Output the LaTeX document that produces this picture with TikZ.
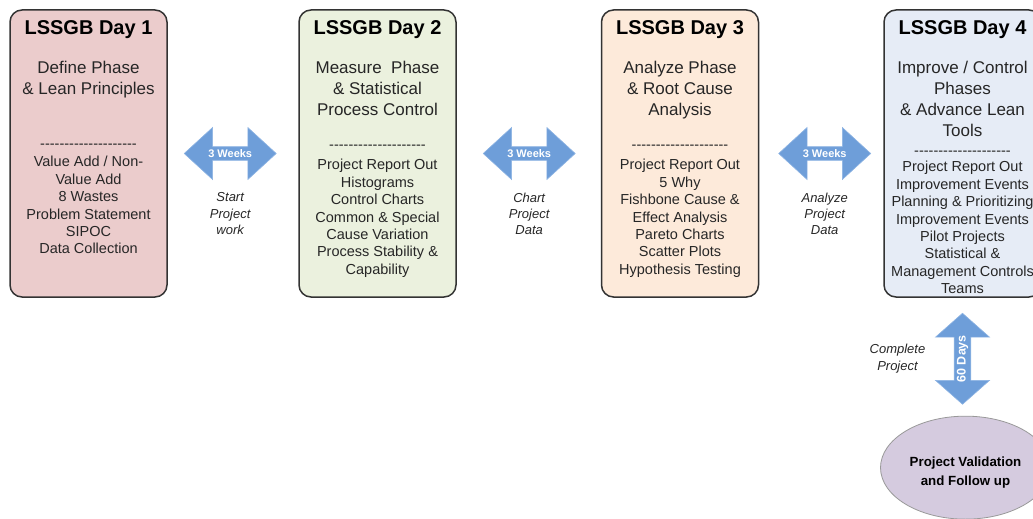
\documentclass[tikz,border=0pt]{standalone}
\usepackage{fontspec}
\setmainfont{Liberation Sans}
\usetikzlibrary{positioning,shapes.arrows,shapes.geometric}
\definecolor{dayonered}{HTML}{EBCCCC}
\definecolor{daytwogreen}{HTML}{EBF1DE}
\definecolor{daythreepeach}{HTML}{FDEADA}
\definecolor{dayfourblue}{HTML}{E6ECF6}
\definecolor{arrowblue}{HTML}{6E9ED9}
\definecolor{arrowedge}{HTML}{8EB4E3}
\definecolor{followpurple}{HTML}{D5CBDF}
\definecolor{boxedge}{HTML}{333333}
\definecolor{bodytext}{HTML}{262626}
\newcommand{\dashrow}{\foreach \k in {1,...,20}{-\kern0pt}}
\tikzset{
  daybox/.style={draw=boxedge, line width=1.5pt, rounded corners=12pt,
    minimum width=157pt, minimum height=287pt, inner sep=0pt},
  daytitle/.style={font=\bfseries\fontsize{20}{24}\selectfont, inner sep=0pt},
  phase/.style={font=\fontsize{17}{21}\selectfont, align=center, inner sep=0pt, text=bodytext},
  dashes/.style={font=\fontsize{14.5}{17.4}\selectfont, inner sep=0pt, text=bodytext},
  topics/.style={font=\fontsize{14.5}{17.4}\selectfont, align=center, inner sep=0pt, text=bodytext},
  gap/.style={double arrow, double arrow head extend=18pt, double arrow tip angle=85,
    fill=arrowblue, draw=arrowedge, line width=0.6pt, minimum height=92pt,
    minimum width=52pt, inner sep=2pt, text=white,
    font=\bfseries\fontsize{11}{13}\selectfont},
  note/.style={font=\itshape\fontsize{13}{16.3}\selectfont, align=center,
    inner sep=0pt, text=bodytext},
  followup/.style={ellipse, fill=followpurple, draw=gray!80, line width=0.8pt,
    minimum width=170pt, minimum height=103pt},
  followtext/.style={align=center, inner sep=0pt,
    font=\bfseries\fontsize{13.3}{18.3}\selectfont}
}
\begin{document}
\begin{tikzpicture}[x=1pt, y=1pt]
  \useasboundingbox (0,0) rectangle (1033,-519);
  % the four days
  \node[daybox, fill=dayonered] (day1) at (88.5,-153.5) {};
  \node[daybox, fill=daytwogreen, right=130.5pt of day1] (day2) {};
  \node[daybox, fill=daythreepeach, right=144pt of day2] (day3) {};
  \node[daybox, fill=dayfourblue, right=124pt of day3] (day4) {};

  \node[daytitle, below=11.5pt of day1.north] (title1) {LSSGB Day 1};
  \node[phase, below=52pt of day1.north] (phase1) {Define Phase\\ \& Lean Principles};
  \node[dashes, below=139pt of day1.north, anchor=base] (sep1) {\dashrow};
  \node[topics, below=147pt of day1.north] (list1) {Value Add / Non-\\Value Add\\8 Wastes\\Problem Statement\\SIPOC\\Data Collection};

  \node[daytitle, below=11.5pt of day2.north] (title2) {LSSGB Day 2};
  \node[phase, below=52pt of day2.north] (phase2) {Measure\ \ Phase\\ \& Statistical\\Process Control};
  \node[dashes, below=140pt of day2.north, anchor=base] (sep2) {\dashrow};
  \node[topics, below=150pt of day2.north] (list2) {Project Report Out\\Histograms\\Control Charts\\Common \& Special\\Cause Variation\\Process Stability \&\\Capability};

  \node[daytitle, below=11.5pt of day3.north] (title3) {LSSGB Day 3};
  \node[phase, below=52pt of day3.north] (phase3) {Analyze Phase\\ \& Root Cause\\Analysis};
  \node[dashes, below=140pt of day3.north, anchor=base] (sep3) {\dashrow};
  \node[topics, below=150pt of day3.north] (list3) {Project Report Out\\5 Why\\Fishbone Cause \&\\Effect Analysis\\Pareto Charts\\Scatter Plots\\Hypothesis Testing};

  \node[daytitle, below=11.5pt of day4.north] (title4) {LSSGB Day 4};
  \node[phase, below=52pt of day4.north] (phase4) {Improve / Control\\Phases\\ \& Advance Lean\\Tools};
  \node[dashes, below=146pt of day4.north, anchor=base] (sep4) {\dashrow};
  \node[topics, below=152pt of day4.north] (list4) {Project Report Out\\Improvement Events\\Planning \& Prioritizing\\Improvement Events\\Pilot Projects\\Statistical \&\\Management Controls\\Teams};

  % gaps between the days
  \node[gap, right=16pt of day1] (wait1) {3 Weeks};
  \node[gap, right=26pt of day2] (wait2) {3 Weeks};
  \node[gap, right=19pt of day3] (wait3) {3 Weeks};
  \node[note, below=39pt of wait1.center] (todo1) {Start\\Project\\work};
  \node[note, below=39pt of wait2.center] (todo2) {Chart\\Project\\Data};
  \node[note, below=39pt of wait3.center] (todo3) {Analyze\\Project\\Data};

  % after day 4
  \node[gap, rotate=90, minimum height=91pt, minimum width=54pt, double arrow tip angle=97,
    font=\bfseries\fontsize{12.5}{14}\selectfont,
    below=61pt of day4.south, anchor=center] (wait4) {60 Days};
  \node[note, left=37pt of wait4.center] (todo4) {Complete\\Project};
  \node[followup, below=57pt of wait4.center, xshift=3pt] (follow) {};
  \node[followtext, below=5pt of follow.center, anchor=center] (followlabel) {Project Validation\\and Follow up};
\end{tikzpicture}
\end{document}
